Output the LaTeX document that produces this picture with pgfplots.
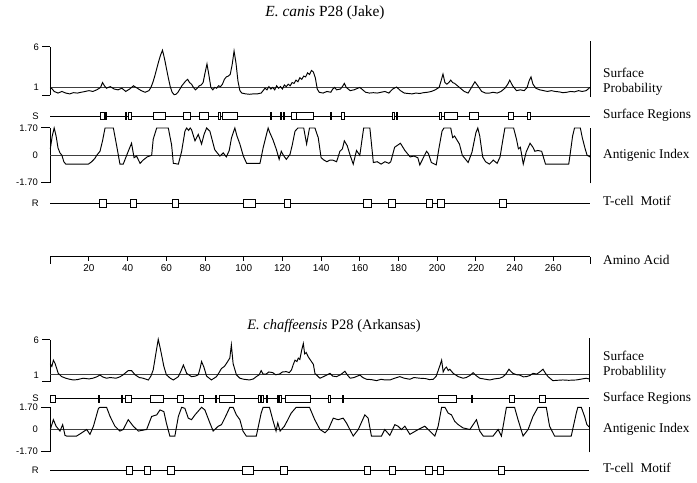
\documentclass[border=0pt]{standalone}
\usepackage{fontspec}
\setmainfont{Liberation Serif}
\newfontfamily\lsans{Liberation Sans}
\usepackage{pgfplots}
\pgfplotsset{compat=1.18}

% common look of the stacked tracks (x = amino acid position)
\pgfplotsset{
  base/.style={scale only axis, width=539.7bp, xmin=0, xmax=279, clip=false,
    axis x line=none, axis y line=left, y axis line style={-, line width=1bp},
    tick align=outside, major tick length=8bp, tick style={black, line width=1bp},
    tick label style={font=\lsans\fontsize{9.5}{10}\selectfont},
    anchor=south west},
  track/.style={base, height=7bp, ymin=-1, ymax=1, y axis line style={draw=none},
    tick style={draw=none}, ytick={0}},
  curve/.style={black, line width=0.95bp},
  refline/.style={black!75, line width=1bp},
  boxst/.style={black, fill=white, line width=0.9bp},
}
\def\mkbox#1/#2\relax{\addplot[boxst] coordinates {(#1,-1) (#2,-1) (#2,1) (#1,1)} --cycle;}

\begin{document}
\begin{tikzpicture}
\path[use as bounding box] (0,0) rectangle (697bp,483bp);

% ---------------- E. canis P28 (Jake) ----------------
\node[font=\fontsize{15.5}{18}\selectfont] at (325bp,470bp) {\textit{E. canis} P28 (Jake)};

% surface probability
\begin{axis}[base, at={(50.3bp,387.5bp)}, height=48.5bp, ymin=0, ymax=6,
  ytick={0,6}, yticklabels={,6},
  extra y ticks={1}, extra y tick labels={1}, extra y tick style={tick style={draw=none}}]
\addplot[refline] coordinates {(0,1) (279,1)};
\addplot[black, line width=1bp] coordinates {(279,-0.2) (279,6.75)};
\addplot[curve] coordinates {
(0,1.0) (1,0.8) (2,0.5) (4,0.3) (6,0.5) (8,0.3) (10,0.2) (12,0.35) (14,0.3) (16,0.4)
(18,0.5) (20,0.6) (22,0.5) (24,0.7) (26,1.0) (27,1.6) (28,1.2) (29,0.9) (31,1.1) (33,0.8)
(35,0.7) (37,0.9) (39,0.5) (41,0.8) (43,1.2) (45,0.9) (47,0.6) (49,0.4) (51,0.6) (52,1.0)
(53,1.6) (54,2.4) (55,3.3) (56,4.2) (57,5.0) (58,5.6) (59,4.6) (60,3.4) (61,2.2) (62,1.1)
(63,0.4) (64,0.1) (65,0.15) (66,0.4) (67,0.8) (68,1.2) (69,1.5) (70,1.8) (71,2.0) (72,1.6)
(73,1.4) (74,1.0) (75,0.7) (76,0.9) (77,1.2) (78,1.3) (79,1.6) (80,2.8) (81,3.9) (82,2.5)
(83,1.0) (84,0.7) (85,1.0) (86,0.9) (87,1.2) (88,1.1) (89,1.4) (90,2.0) (91,2.3) (92,2.4)
(93,2.6) (94,3.8) (95,5.5) (96,4.0) (97,1.8) (98,0.6) (99,0.3) (101,0.2) (103,0.15) (105,0.2)
(107,0.2) (109,0.3) (110,0.6) (111,0.9) (112,0.7) (113,1.1) (114,0.8) (115,1.0) (116,0.7) (117,1.2)
(118,0.9) (119,1.1) (120,0.8) (121,1.3) (122,1.1) (123,1.4) (124,1.2) (125,1.6) (126,1.5) (127,1.9)
(128,1.7) (129,2.2) (130,2.0) (131,2.4) (132,2.3) (133,2.8) (134,2.6) (135,3.1) (136,2.9) (137,2.2)
(138,0.8) (139,0.4) (141,0.3) (143,0.5) (145,0.4) (146,0.8) (147,1.0) (148,0.7) (150,0.8) (151,1.1)
(152,1.5) (153,1.0) (155,0.6) (157,0.7) (159,0.9) (160,1.0) (161,0.8) (163,0.4) (165,0.3) (167,0.35)
(169,0.3) (171,0.4) (173,0.5) (175,0.3) (177,0.8) (179,1.05) (181,0.6) (183,0.3) (185,0.25) (187,0.2)
(189,0.3) (191,0.25) (193,0.35) (195,0.4) (197,0.5) (199,0.7) (201,1.0) (202,1.8) (203,2.65) (204,1.6)
(205,1.4) (206,1.6) (207,1.9) (208,1.6) (209,1.5) (210,1.3) (211,1.1) (212,0.9) (214,0.5) (216,0.3)
(218,1.1) (219.5,1.7) (221,1.2) (223,0.5) (225,0.3) (227,0.3) (229,0.4) (231,0.3) (233,0.5) (235,0.9)
(236.5,1.4) (237.5,1.9) (239,1.2) (241,0.6) (243,0.7) (245,0.6) (246.5,1.0) (247.5,1.8) (248.5,2.3) (249.5,1.4)
(251,0.9) (253,0.7) (255,0.6) (257,0.5) (259,0.6) (261,0.5) (263,0.45) (265,0.35) (267,0.4) (269,0.5)
(271,0.45) (273,0.6) (275,0.5) (277,0.6) (278,0.8) (279,1.0)};
\end{axis}

% surface regions
\begin{axis}[track, at={(50.3bp,363.5bp)}, yticklabels={S}]
\addplot[black, line width=0.9bp] coordinates {(0,0) (279,0)};
\pgfplotsinvokeforeach{25.7/27.8,28.4/29.2,38.6/39.4,40.3/42.2,53.2/59.3,68.6/72.7,77/82,
  87/87.8,89.2/96.5,113.6/114.4,118.8/119.6,120.3/121.1,124.9/127,127.5/135.8,144.6/145.4,
  150.6/152.3,176.9/177.7,178.9/179.7,201/202.4,204/210.6,216.9/221.2,236.7/239.3,246.7/248.3}{\mkbox#1\relax}
\end{axis}

% antigenic index
\begin{axis}[base, at={(50.3bp,300.4bp)}, height=54.6bp, ymin=-1.7, ymax=1.7,
  major tick length=9bp,
  ytick={-1.7,1.7}, yticklabels={-1.70,1.70},
  extra y ticks={0}, extra y tick labels={0}, extra y tick style={tick style={draw=none}}]
\addplot[refline] coordinates {(0,0) (279,0)};
\addplot[black, line width=1bp] coordinates {(279,-1.75) (279,1.7)};
\addplot[curve] coordinates {
(0,0.4) (1,1.2) (2,1.7) (3,1.2) (4,0.45) (5,0.15) (6,0) (7,-0.4) (8,-0.55) (19.7,-0.55)
(21.4,-0.4) (23,-0.2) (24,0) (25.7,0.25) (27,0.9) (28.3,1.7) (32.6,1.7) (34.3,0.6) (36,-0.55) (37.7,-0.55)
(40.3,0.25) (42,0.75) (43.3,-0.15) (44.6,-0.05) (46.4,-0.5) (48,-0.3) (50.1,-0.1) (52.4,0) (53.2,1.0) (55,1.7)
(61,1.7) (62.7,0.65) (63.6,-0.5) (66.2,-0.55) (67.9,0.25) (69.6,1.5) (70.5,1.7) (71.5,1.55) (72.3,1.7) (73,1.6)
(74.8,0.9) (76.5,1.3) (78.2,0.7) (79.5,1.3) (80.8,1.7) (82.5,1.5) (85,0.35) (86.3,0.15) (87.7,-0.05) (89.4,0.15)
(91,-0.1) (92.5,0.3) (93.7,1.1) (95.4,1.7) (96.5,1.2) (98,0.7) (99.8,-0.05) (101.5,-0.5) (108.4,-0.5) (110,0.45)
(112.6,1.7) (113.5,1.4) (115,1.0) (116.9,0.35) (118.3,-0.25) (119.4,0.25) (120.5,0.0) (122,-0.25) (123.9,0.05) (125,0.6)
(126.5,1.5) (128,1.7) (131,1.7) (132.5,0.7) (134,1.7) (136.8,1.7) (138.5,1.1) (140,-0.15) (141.5,-0.3) (143,-0.4)
(144.5,-0.3) (146,-0.3) (148,-0.4) (149.7,0.25) (151,0.4) (152,0.9) (153.5,0.6) (155,0.0) (156.6,-0.55) (158.3,0.3)
(160,0.0) (162,1.7) (165.2,1.7) (167,-0.45) (169,-0.4) (171,-0.55) (173,-0.4) (175,-0.5) (176,-0.4) (178,0.5)
(181,0.75) (183.3,0.3) (186,-0.1) (188,-0.05) (190,-0.15) (191,-0.6) (194.5,0.25) (195.5,0.1) (197,-0.45) (199.5,-0.6)
(201,0.5) (202.5,1.5) (203.5,1.7) (207,1.7) (208,1.1) (209,1.2) (210,1.0) (211.5,0.7) (213,0) (216,-0.45)
(218,0.2) (220,1.4) (221,1.7) (222,1.2) (223.5,-0.1) (225,-0.4) (227,-0.55) (229,-0.3) (231,-0.5) (232.5,-0.1)
(234,1.0) (235,1.7) (239.5,1.7) (241,1.0) (242,0.4) (243,0.5) (244.5,-0.55) (246,0.2) (248,0.75) (249.5,0.5)
(250.5,0.25) (252,0.3) (254,0.25) (256,-0.55) (268,-0.55) (269,0.3) (270,1.2) (271,1.7) (274,1.7) (275,1.1)
(276.5,0.4) (277.5,0.0) (279,-0.1)};
\end{axis}

% T-cell motif
\begin{axis}[track, at={(50.3bp,276bp)}, height=8bp, yticklabels={R}]
\addplot[black, line width=0.9bp] coordinates {(0,0) (279,0)};
\pgfplotsinvokeforeach{25.3/28.8,41.2/44.7,63/66.5,100/106.3,120.8/124.4,162/166,174.7/178.5,
  194.2/197.6,200/203.5,232/235.9}{\mkbox#1\relax}
\end{axis}

% amino acid axis
\begin{axis}[scale only axis, width=539.7bp, height=10bp, xmin=0, xmax=279, ymin=0, ymax=1,
  at={(50.3bp,226bp)}, anchor=south west,
  axis x line=bottom, axis y line=none, x axis line style={-, line width=1bp},
  xtick={20,40,...,260}, tick align=outside, major tick length=4bp,
  tick style={black, line width=1bp},
  /pgf/number format/assume math mode=true,
  xticklabel style={font=\lsans\fontsize{10}{11}\selectfont},
  extra x ticks={0,279}, extra x tick labels={\mbox{},\mbox{}},
  extra x tick style={major tick length=7bp}]
\addplot[draw=none] coordinates {(0,0)};
\end{axis}

% ---------------- E. chaffeensis P28 (Arkansas) ----------------
\node[font=\fontsize{14.5}{17}\selectfont] at (334bp,157bp) {\textit{E. chaffeensis} P28 (Arkansas)};

\begin{axis}[base, at={(50.3bp,101.3bp)}, height=41.7bp, ymin=0, ymax=6,
  ytick={0,6}, yticklabels={,6},
  extra y ticks={1}, extra y tick labels={1}, extra y tick style={tick style={draw=none}}]
\addplot[refline] coordinates {(0,1) (279,1)};
\addplot[black, line width=1bp] coordinates {(278.5,-0.05) (278.5,6.3)};
\addplot[curve] coordinates {
(0,2.6) (0.8,2.2) (1.6,3.1) (2.5,2.6) (4.1,1.2) (5.9,0.73) (8,0.5) (10,0.35) (12,0.25) (14,0.3)
(17,0.5) (20,0.4) (22,0.5) (24,0.7) (25.7,0.96) (27,0.7) (29,0.5) (31,0.6) (34,0.5) (36,0.7)
(37.7,1.0) (40.3,1.6) (42,1.6) (43.8,1.0) (46,0.6) (48,0.5) (50.7,0.25) (52,0.8) (53.2,1.7) (54.6,4.1)
(55.8,6.1) (57,4.6) (58.7,2.2) (60,1.0) (62,0.5) (63.6,0.25) (65,0.5) (66.2,0.73) (67.5,1.5) (68.8,2.4)
(70.5,1.2) (73,0.73) (75,0.8) (76.5,1.0) (77.5,2.0) (78.2,2.9) (79.4,2.1) (80.8,0.8) (83.3,0.25) (85.9,0.73)
(87,1.2) (88.5,1.9) (90,2.2) (91,2.6) (92.8,3.4) (93.6,5.3) (94.5,2.6) (96.2,1.0) (98,0.5) (100,0.35)
(103,0.25) (105,0.4) (106.5,0.73) (108,1.0) (109,1.6) (110,1.1) (111.6,1.1) (113,1.4) (115,1.3) (116.5,1.0)
(118.5,1.1) (120,1.4) (122,1.45) (123.5,1.3) (124.7,1.7) (125.5,2.4) (126.5,3.1) (127.5,2.9) (128.2,3.4) (129,3.2)
(130,4.6) (130.8,5.5) (131.5,4.0) (132.3,4.2) (133.3,3.6) (135,2.9) (136,2.5) (136.8,1.2) (138.5,0.73) (139.4,0.5)
(141,0.7) (142.5,0.9) (144.6,1.2) (146,0.8) (148,0.73) (150,1.0) (152.3,1.5) (153.5,1.0) (155,0.5) (157,0.6)
(160.1,0.96) (161.5,0.6) (163.5,0.35) (166,0.3) (168.7,0.15) (171,0.35) (173,0.25) (175.6,0.25) (178,0.5) (180.7,0.73)
(183,0.5) (185.9,0.35) (188,0.6) (191,0.5) (194,0.45) (196,0.3) (198,0.35) (199.5,0.8) (200.5,1.6) (201.5,2.4)
(202.3,3.1) (203.1,1.4) (204,1.9) (204.8,2.1) (205.7,1.6) (206.5,1.8) (208.3,1.2) (210.9,0.73) (213.4,0.5) (215,0.6)
(217,0.9) (218.6,1.3) (220,0.9) (222,0.5) (225,0.35) (227.2,0.25) (229.5,0.4) (232.3,0.5) (234,0.7) (235.5,1.1)
(237.1,1.8) (238,1.5) (239.2,1.2) (241,1.0) (242.6,0.96) (244.5,0.7) (246.1,0.73) (248,0.9) (249.5,1.2) (251.5,1.1)
(253.5,1.5) (254.7,1.8) (256,1.2) (257.3,0.73) (259.8,0.15) (262,0.2) (265,0.25) (268,0.2) (271.9,0.25) (274,0.35)
(277,0.5) (278.5,0.4)};
\end{axis}

\begin{axis}[track, at={(50.3bp,81bp)}, yticklabels={S}]
\addplot[black, line width=0.9bp] coordinates {(0,0) (278.5,0)};
\pgfplotsinvokeforeach{0/2.6,25/25.6,36.6/37.3,39.1/42,52/58.4,65.6/68.8,77/79.4,85.3/86,87.4/95.4,
  107.7/108.4,109.4/110.1,111.5/112.2,117.2/117.9,118.7/119.4,121.6/134.5,143.9/144.6,151.1/151.8,
  200.9/210,217.9/218.3,237.1/239.8,253.1/255.8}{\mkbox#1\relax}
\end{axis}

\begin{axis}[base, at={(50.3bp,31.3bp)}, height=44.4bp, ymin=-1.7, ymax=1.7,
  major tick length=9bp,
  ytick={-1.7,1.7}, yticklabels={-1.70,1.70},
  extra y ticks={0}, extra y tick labels={0}, extra y tick style={tick style={draw=none}}]
\addplot[refline] coordinates {(0,0) (278.5,0)};
\addplot[black, line width=1bp] coordinates {(278.5,-1.75) (278.5,1.7)};
\addplot[curve] coordinates {
(0,0) (1.6,0.75) (3,0.25) (5,-0.12) (6.4,0.37) (7.6,-0.45) (8.4,-0.5) (13.6,-0.5) (16.3,-0.25) (18.8,0)
(20.5,-0.37) (22.3,0.25) (24.9,1.62) (25.7,1.7) (29.1,1.7) (30.9,1.0) (33.4,0.25) (36,-0.12) (37.7,0) (40.3,0.75)
(42.9,0.25) (45.5,-0.12) (49.8,0) (52.4,1.0) (55,1.12) (56.7,1.5) (58.7,1.37) (60,0.5) (61.8,-0.5) (64.4,-0.5)
(66.2,1.0) (67.9,1.7) (69.6,1.62) (71.3,0.87) (73,0.75) (74.8,1.12) (78.2,1.7) (79.9,1.5) (82.5,0.5) (84.2,-0.12)
(86.8,0.25) (88.5,0.37) (91,1.12) (92.8,1.7) (94.5,1.7) (96.2,1.12) (98,0.75) (99.6,-0.12) (101.3,-0.5) (106.5,-0.5)
(109,1.25) (110,1.7) (113.3,1.7) (115,0.75) (116.7,-0.12) (117.6,0.5) (118.8,-0.12) (121,0.25) (122.8,0.75) (124.5,1.25)
(127.1,1.7) (134,1.7) (136.7,0.75) (139.4,0) (142,-0.25) (143.7,0) (146.3,0.87) (148.8,0.75) (151.4,0.87) (153.1,0.5)
(156.6,-0.5) (159.2,0) (162.6,1.12) (164.3,0.87) (166,-0.5) (171.2,-0.5) (172.9,0) (175.5,-0.45) (178.1,0.37) (179.8,0.25)
(181.5,0) (183.3,0.25) (185.9,-0.37) (190.2,0) (193.6,0.25) (196.2,-0.12) (198.8,-0.5) (200.5,0.25) (202.3,1.7) (204,1.7)
(205.7,1.25) (207.4,1.12) (209.1,0.62) (210.9,0.37) (213.4,0.12) (216.9,0) (220.3,0.75) (222,-0.12) (223.8,-0.5) (228.9,-0.5)
(231.5,0) (233.2,-0.5) (235.8,1.7) (240,1.7) (241.8,0.75) (244.4,-0.5) (247,0) (249.5,1.0) (252.1,1.7) (256.4,1.7)
(258.1,0.25) (260.7,-0.5) (269.3,-0.5) (271.9,1.25) (272.7,1.7) (274.5,1.7) (276.2,1.0) (277.4,0.37) (278.5,0.2)};
\end{axis}

\begin{axis}[track, at={(50.3bp,9bp)}, height=8bp, yticklabels={R}]
\addplot[black, line width=0.9bp] coordinates {(0,0) (278.5,0)};
\pgfplotsinvokeforeach{39.5/42.4,48.6/51.6,60.8/64,99.2/104.9,119.2/122.4,162.3/165.6,175.2/178.5,
  194/197.3,200.3/203.3,231.7/234.9}{\mkbox#1\relax}
\end{axis}

% right-hand track names
\begin{scope}[every node/.style={font=\fontsize{13.4}{15}\selectfont, anchor=mid west, inner sep=0pt}]
\node at (603bp,408bp) {Surface};
\node at (603bp,393bp) {Probability};
\node at (603bp,367bp) {Surface Regions};
\node at (603bp,327bp) {Antigenic Index};
\node at (603bp,280bp) {T-cell\ \ Motif};
\node at (603bp,221bp) {Amino Acid};
\node at (603bp,125bp) {Surface};
\node at (603bp,110bp) {Probablility};
\node at (603bp,84bp) {Surface Regions};
\node at (603bp,53bp) {Antigenic Index};
\node at (603bp,13bp) {T-cell\ \ Motif};
\end{scope}
\end{tikzpicture}
\end{document}
